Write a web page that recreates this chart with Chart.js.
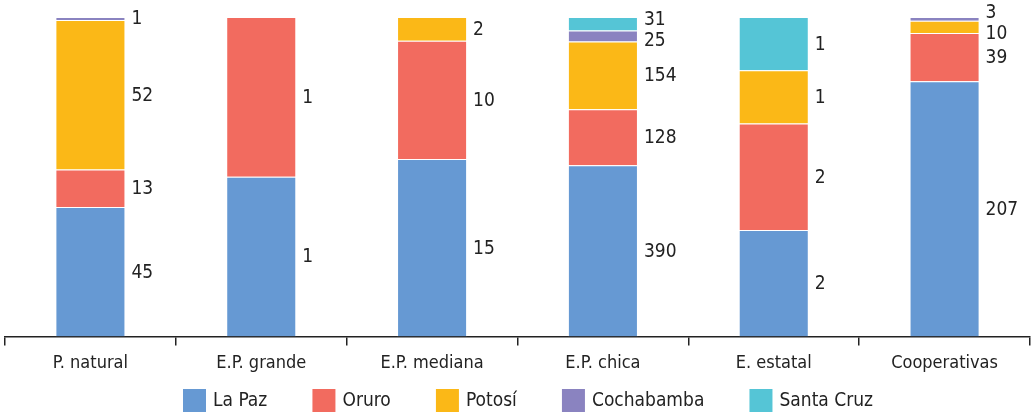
<!DOCTYPE html>
<html>
<head>
<meta charset="utf-8">
<script src="https://cdn.jsdelivr.net/npm/chart.js@4/dist/chart.umd.min.js"></script>
<style>
	html, body { margin: 0; padding: 0; background: #fff; }
	#wrap { width: 1034px; height: 413px; }
</style>
</head>
<body>
<div id="wrap"><canvas id="chart"></canvas></div>
<script>
var categories = ["P. natural", "E.P. grande", "E.P. mediana", "E.P. chica", "E. estatal", "Cooperativas"];
var seriesNames = ["La Paz", "Oruro", "Potosí", "Cochabamba", "Santa Cruz"];
var seriesColors = ["#6699d3", "#f26b5f", "#fbb817", "#8a83c0", "#55c5d6"];

// counts per department
var laPaz      = [45, 1, 15, 390, 2, 207];
var oruro      = [13, 1, 10, 128, 2, 39];
var potosi     = [52, 0, 2, 154, 1, 10];
var cochabamba = [1, 0, 0, 25, 0, 3];
var santaCruz  = [0, 0, 0, 31, 1, 0];

var counts = [laPaz, oruro, potosi, cochabamba, santaCruz];
var fontName = "'Liberation Sans Narrow', 'DejaVu Sans Condensed', sans-serif";

var totals = [];
for (let i = 0; i < categories.length; i++)
{
	let sum = 0;
	for (let s = 0; s < counts.length; s++) sum += counts[s][i];
	totals[i] = sum;
}

var datasets = [];
for (let s = 0; s < counts.length; s++)
{
	datasets.push({
		label: seriesNames[s],
		data: counts[s].map((v, i) => v / totals[i] * 100),
		raw: counts[s],
		backgroundColor: seriesColors[s],
		borderColor: "rgba(255,255,255,0.45)",
		borderWidth: 1,
		barPercentage: 1,
		categoryPercentage: 0.41
	});
}

// count labels to the right of each segment, pushed apart where they collide
var countLabels = {
	id: "countLabels",
	afterDatasetsDraw(chart)
	{
		let ctx = chart.ctx;
		ctx.save();
		ctx.font = "19px " + fontName;
		ctx.fillStyle = "#222";
		ctx.textAlign = "left";
		ctx.textBaseline = "middle";
		let gap = 21;
		for (let i = 0; i < categories.length; i++)
		{
			let items = [];
			chart.data.datasets.forEach((ds, s) =>
			{
				let raw = ds.raw[i];
				if (raw <= 0) return;
				let bar = chart.getDatasetMeta(s).data[i];
				items.push({ text: String(raw), x: bar.x + bar.width / 2 + 6, y: (bar.y + bar.base) / 2 + 1 });
			});
			items.sort((a, b) => a.y - b.y);
			for (let k = 0; k < 40; k++)
			{
				for (let j = 1; j < items.length; j++)
				{
					let d = gap - (items[j].y - items[j - 1].y);
					if (d > 0)
					{
						items[j - 1].y -= d / 2;
						items[j].y += d / 2;
					}
				}
			}
			items.forEach(it => ctx.fillText(it.text, it.x, it.y));
		}
		ctx.restore();
	}
};

// legend row along the bottom edge
var bottomLegend = {
	id: "bottomLegend",
	afterDraw(chart)
	{
		let ctx = chart.ctx;
		ctx.save();
		ctx.font = "19px " + fontName;
		ctx.textBaseline = "middle";
		ctx.textAlign = "left";
		let box = 23, textGap = 7;
		let widths = seriesNames.map(n => box + textGap + ctx.measureText(n).width);
		let used = widths.reduce((a, b) => a + b, 0);
		let span = 690;
		let gap = (span - used) / (seriesNames.length - 1);
		let x = 528 - span / 2;
		let top = chart.height - box - 1;
		for (let s = 0; s < seriesNames.length; s++)
		{
			ctx.fillStyle = seriesColors[s];
			ctx.fillRect(x, top, box, box);
			ctx.fillStyle = "#222";
			ctx.fillText(seriesNames[s], x + box + textGap, top + box / 2 + 1);
			x += widths[s] + gap;
		}
		ctx.restore();
	}
};

new Chart(document.getElementById("chart"), {
	type: "bar",
	data: { labels: categories, datasets: datasets },
	plugins: [countLabels, bottomLegend],
	options: {
		responsive: true,
		maintainAspectRatio: false,
		animation: false,
		layout: { padding: { top: 17, left: 5, right: 4, bottom: 32 } },
		scales: {
			x: {
				stacked: true,
				offset: true,
				border: { display: true, color: "#222", width: 1.5 },
				grid: { display: true, offset: true, drawOnChartArea: false, drawTicks: true, tickLength: 9, color: "#222", lineWidth: 1.5 },
				ticks: { color: "#222", font: { family: fontName, size: 18 }, padding: 7, maxRotation: 0 }
			},
			y: {
				stacked: true,
				display: false,
				min: 0,
				max: 100
			}
		},
		plugins: {
			tooltip: { enabled: false },
			legend: { display: false }
		}
	}
});
</script>
</body>
</html>
